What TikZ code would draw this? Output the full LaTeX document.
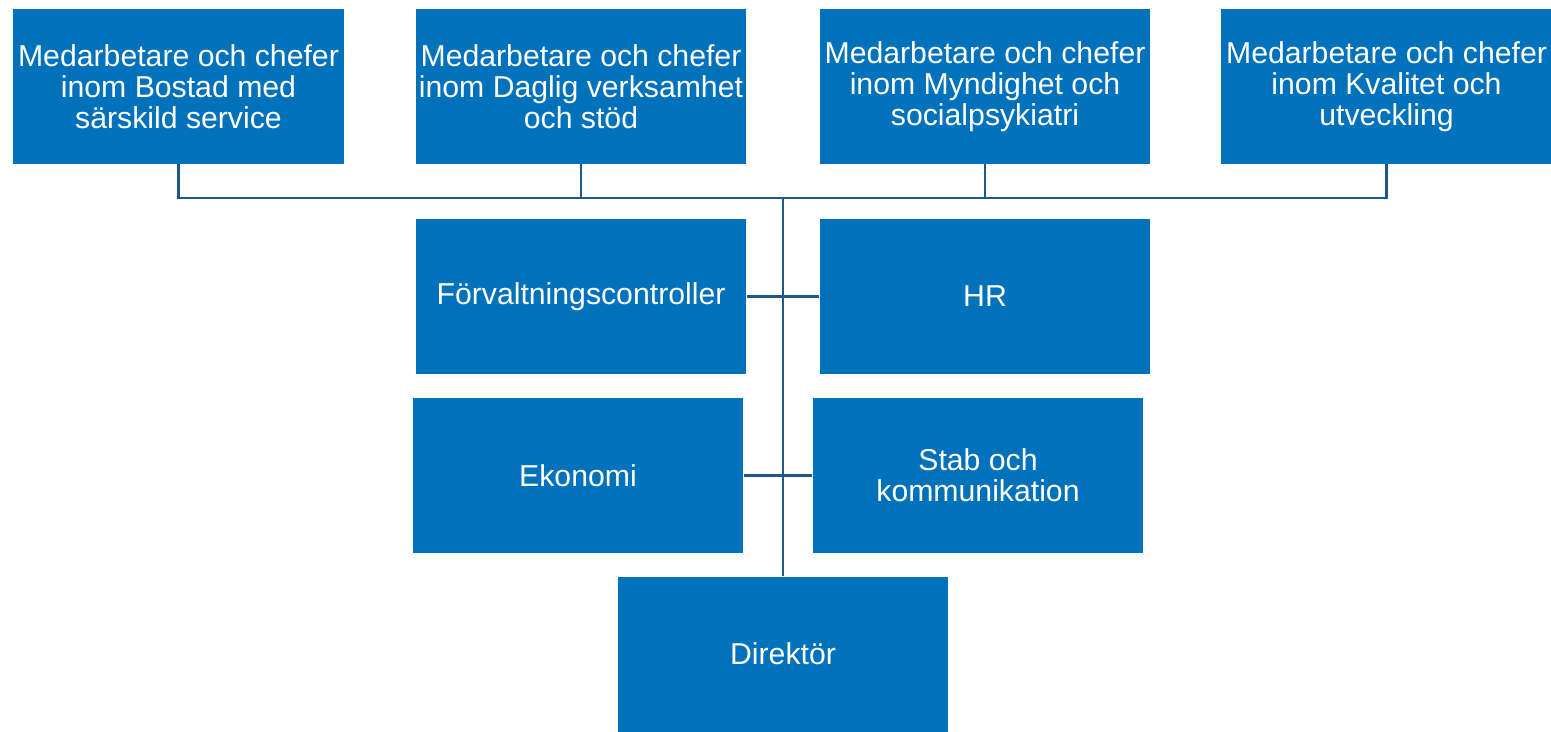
\documentclass[tikz,border=0pt]{standalone}
\usepackage{fontspec}
\setmainfont{Liberation Sans}
\usepackage{tikz}
\definecolor{unitblue}{RGB}{0,114,187}
\definecolor{linkblue}{RGB}{30,88,138}
\tikzstyle{unit}=[fill=unitblue, text=white, rectangle, inner sep=0pt,
                  minimum width=6.62cm, minimum height=3.1cm, align=center,
                  font=\fontsize{17.2}{17.6}\selectfont]
\tikzstyle{conn}=[draw=linkblue, line width=1.5pt]

\begin{document}
\begin{tikzpicture}[x=0.02cm,y=-0.02cm]
\useasboundingbox (0,0) rectangle (1551,731);
\node[unit] (bostad) at (178.5,86.5) {Medarbetare och chefer\\inom Bostad med\\särskild service};
\node[unit] (daglig) at (581,86.5) {Medarbetare och chefer\\inom Daglig verksamhet\\och stöd};
\node[unit] (myndighet) at (985,86.5) {Medarbetare och chefer\\inom Myndighet och\\socialpsykiatri};
\node[unit] (kvalitet) at (1386.5,86.5) {Medarbetare och chefer\\inom Kvalitet och\\utveckling};
\node[unit] (controller) at (581,296.5) {Förvaltningscontroller};
\node[unit] (hr) at (985,296.5) {HR};
\node[unit] (ekonomi) at (578,475.5) {Ekonomi};
\node[unit] (stab) at (978,475.5) {Stab och\\kommunikation};
\node[unit] (direktor) at (783,654) {Direktör};
\coordinate (bus) at (783,198);
\draw[conn] (bostad.south) |- (bus) -| (kvalitet.south);
\draw[conn] (daglig.south) -- (daglig.south |- bus);
\draw[conn] (myndighet.south) -- (myndighet.south |- bus);
\draw[conn] (direktor.north) -- (bus);
\draw[conn] (controller.east) -- (hr.west);
\draw[conn] (ekonomi.east) -- (stab.west);

\end{tikzpicture}
\end{document}
